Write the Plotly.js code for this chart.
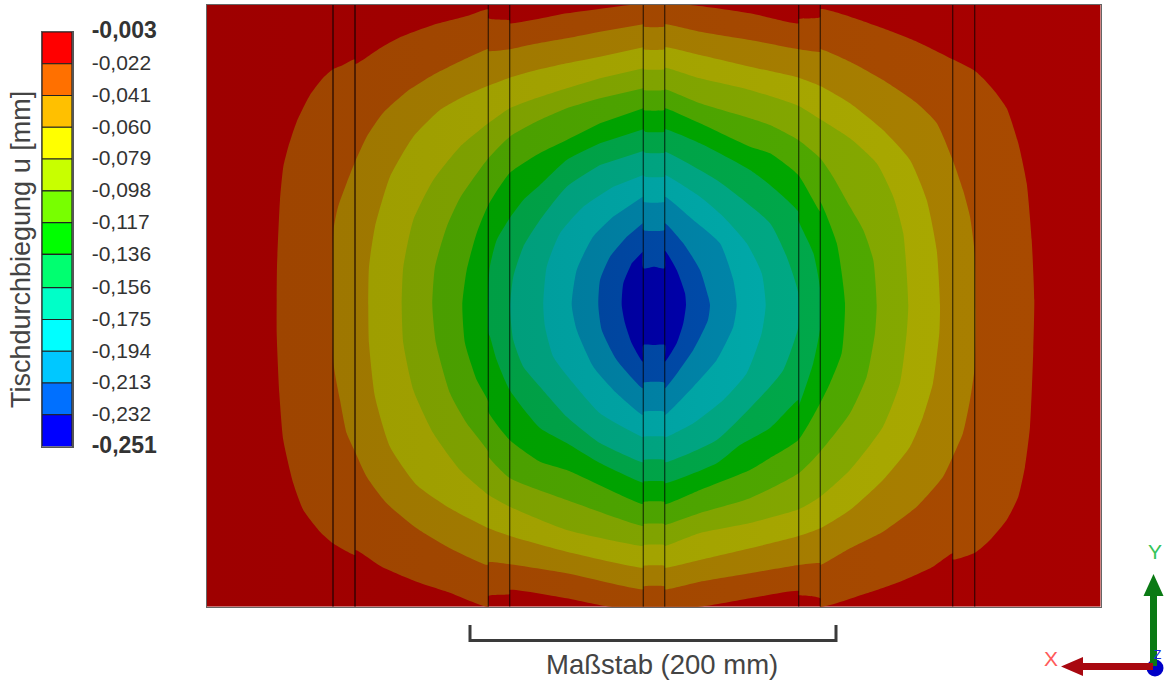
<!DOCTYPE html>
<html><head><meta charset="utf-8">
<script src="https://cdn.plot.ly/plotly-3.0.1.min.js"></script>
<style>html,body{margin:0;padding:0;background:#fff;overflow:hidden}</style>
</head><body><div id="chart" style="width:1164px;height:680px"></div>
<script>
// Legend
const legendLevels = [-0.003,-0.022,-0.041,-0.060,-0.079,-0.098,-0.117,-0.136,-0.156,-0.175,-0.194,-0.213,-0.232,-0.251];
const boldTick = t => '<span style="font-size:23px;font-weight:bold">'+t+'</span>';
const legendLabels = [boldTick('-0,003'),'-0,022','-0,041','-0,060','-0,079','-0,098','-0,117','-0,136','-0,156','-0,175','-0,194','-0,213','-0,232',boldTick('-0,251')];
const bandPalette = ['#ff0000','#ff7000','#ffc000','#ffff00','#c8ff00','#78ff00','#00ff00','#00ff70','#00ffc8','#00ffff','#00c8ff','#0070ff','#0000ff'];

// Table plate and its stiffening-rib edges, in picture-scale units
const tableX = [207,1100.7];
const tableY = [5,606.7];
const ribEdges = [333,355,488.3,509.7,643.3,664.7,798.7,820.3,952.7,974.7];

// Iso-deflection outlines, outermost to innermost
const iso01 = [[630,5],[690,5],[750,13.3],[798.7,23.3],[798.7,19.3],[820,17.3],[820.5,9.3],[850,16.7],[883,28.3],[917,41.7],[952.7,59.3],[974.7,70.7],[983,78.3],[995,91.7],[1006.7,108.3],[1018.3,143.3],[1026.7,183.3],[1031.7,240],[1034.3,300],[1033.3,350],[1030,426.7],[1025,466.7],[1018.3,496.7],[1006.7,520],[990,540],[975,552.7],[952.7,559.5],[952.7,553.3],[933,566.7],[900,581.7],[866.7,593.3],[820.3,606.7],[820.3,598.3],[810,596],[798.7,595],[798.7,591],[750,598.3],[700,606.7],[610,606.7],[566.7,598.3],[509.7,590],[509.7,594],[488.3,596],[488.3,606.7],[450,592.7],[416.7,581.7],[381.7,566.7],[355.5,550],[355,555],[333,543.3],[320,531.7],[303.3,510],[293.3,483.3],[283.3,440],[279.3,393],[276.7,333],[276.7,300],[277,266.7],[280,200],[283.3,166.7],[288.3,146.7],[296.7,121.7],[310,95],[323,78],[333,69.3],[343,65],[354.8,59.3],[355.5,64],[380,48.3],[400,37.3],[433,25],[467,16],[488.3,9.3],[488.3,18.3],[509.7,20.5],[510,23.3],[567,13.3],[623,5.7]];
const iso02 = [[643.3,24.3],[643.3,26.5],[664.7,26.5],[664.7,24.3],[700,31.7],[750,40],[798.7,49.3],[820.3,51.7],[820.3,49.3],[850,61.7],[883,80],[916.7,103],[936.7,123],[952.7,160],[963,190],[970,216.7],[974.7,253],[974.7,366.7],[970,400],[963,433],[952.7,456.7],[943,476.7],[916.7,506.7],[883,531.7],[850,548.3],[820.3,565],[820.3,563.3],[798.7,565],[750,573.3],[700,581.7],[664.7,589.3],[664.7,586.5],[643.3,586.5],[643.3,589.3],[566.7,573.3],[510,564.3],[488.7,562.3],[487.5,565],[450,548.3],[416.7,528.3],[386.7,503.3],[366.7,476.7],[355,451.7],[346.7,433.3],[340,400],[333.5,363.3],[333.5,230],[338,207],[346.7,183],[355,162],[366.7,136.7],[383,113],[406.7,91.7],[433,75],[466.7,58.3],[488.3,49],[488.7,51],[509.7,49.3],[533,44.3],[566.7,38.3],[600,31.7]];
const iso03 = [[643.3,47.3],[643.3,49.3],[664.7,49.3],[665,47.3],[700,55],[750,66.7],[798.7,77.7],[820.3,86],[850,103.3],[883,130],[910,160],[926.7,200],[936.7,250],[940,305],[939.3,333],[933,383],[923,416.7],[910,446.7],[883,480],[850,510],[820.3,528.3],[798.7,536],[750,548.3],[700,560],[664.7,567.7],[664.7,566],[643.3,566],[643.3,567.7],[566.7,551.7],[510,536],[488.7,528.3],[450,508.3],[416.7,485],[390,446.7],[375,396.7],[369,343.3],[368.3,305],[369,266.7],[375,226.7],[390,176.7],[413.3,136.7],[440,110],[466.7,95],[488.3,85.7],[509.7,77.7],[533,71],[566.7,63.3],[600,56.7]];
const iso04 = [[643.3,68.3],[643.3,69.3],[664.7,69.3],[665,67.7],[700,78.3],[750,90],[798.7,106],[820.3,119.3],[850,138.3],[876.7,163.3],[893.3,196.7],[903.3,233.3],[908.3,305],[906.7,333],[900,383],[883,426.7],[850,470],[820.3,496.7],[798.7,509.3],[750,523],[700,533],[664.7,546],[664.7,545],[643.3,545],[643.3,546],[566.7,530],[509.7,506.7],[488.7,495],[460,470],[433.3,433.3],[413.3,390],[403.3,343.3],[401.7,305],[403.3,266.7],[413.3,220],[433.3,180],[460,146.7],[488.3,123.3],[509.7,108.3],[533,99.3],[566.7,88.3],[600,78.3]];
const iso05 = [[643.3,88.3],[643.3,90],[664.7,90],[665,89.3],[700,103.3],[750,118.3],[770,125],[798.3,140],[820.3,158.3],[833,176.7],[850,206.7],[863.3,230],[873.3,260],[876.7,305],[875,333],[866.7,376.7],[850,413.3],[820.3,451.7],[798.7,473.3],[750,498.3],[700,513],[664.7,525],[664.7,524],[643.3,524],[643.3,526],[566.7,500],[509.7,478],[488.7,456.7],[488.3,451.7],[466.7,423.3],[450,393.3],[436,343.3],[432.3,305],[435,266.7],[446.7,226.7],[460,198],[488.3,158.3],[509.7,136.7],[533,123.3],[566.7,108.3],[600,98.3]];
const iso06 = [[643.3,108.3],[643.3,110],[664.7,110],[665,108.3],[700,123.3],[750,146.7],[770,153.3],[798.3,175],[820.3,211.7],[820.3,201.7],[836.7,243],[845,303],[841.7,353],[830,383.3],[820.3,403],[798.3,440],[770,458],[750,470],[700,490],[665,504.3],[664.7,502],[643.3,502],[642.7,504],[566.7,470],[540,461.7],[509.7,440],[488.3,411.7],[488.3,401.7],[476.7,380],[465,343.3],[462.3,305],[466.7,270],[476.7,233],[488.3,205],[509.7,173],[540,153],[566.7,140],[600,123.3]];
const iso07 = [[643.3,129.3],[645,131.7],[664.7,131.7],[665,129.3],[700,143.3],[750,170],[770,185],[798.3,211.7],[798.3,220],[813.3,253],[820.3,290],[820.3,327],[813.3,363],[798.3,406.7],[798.3,400],[770,428],[740,445],[716.7,463.3],[665,483.3],[664.7,481.5],[643.3,481.5],[643.3,482.7],[600,463],[566.7,443],[540,428],[509.7,390],[496.7,360],[490,336.7],[488.3,333],[488.3,286.7],[490,266],[496.7,240],[509.7,218.3],[523.3,200],[540,185],[566.7,160],[600,143.3]];
const iso08 = [[643.3,151],[645,152.7],[664.7,152.7],[665,151.7],[716.7,180],[770,223.3],[786.7,256.7],[798.3,293],[798.3,327],[783.3,370],[770,386.7],[716.7,440],[665,462.3],[664.7,460],[643.3,460],[643.3,462.3],[600,443],[566.7,416.7],[540,386.7],[523.3,366.7],[513.3,340],[510,306.7],[513.3,276.7],[523.3,246.7],[540,220],[566.7,186.7],[600,165]];
const iso09 = [[643.3,175],[645,176.7],[664.7,176.7],[665,175],[700,196.7],[723.3,216.7],[746.7,243.3],[761.7,273.3],[765.7,305],[761.7,333],[746.7,373.3],[723.3,400],[693.3,423.3],[665.3,437.3],[664.7,436.7],[643.3,436.7],[643.3,437.3],[600,413.3],[573.3,383.3],[553.3,356.7],[545,326.7],[543.3,305],[546.7,266.7],[560,233.3],[583.3,206.7],[613.3,186.7]];
const iso10 = [[642.7,196.7],[643.3,201.7],[664.7,201.7],[665,196.7],[693.3,220],[720,243.3],[733.3,280],[736.7,305],[733.3,326.7],[716.7,360],[693.3,386.7],[665,415],[664.7,411.7],[643.3,411.7],[642.7,415],[616.7,393.3],[593.3,366.7],[576.7,330],[571.7,305],[576.7,270],[593,236.7],[613,216.7]];
const iso11 = [[642.7,223.3],[643.3,230],[664.7,230],[665,223.3],[683.3,243.3],[700,270],[708.3,296.7],[710,305],[708,320],[693.3,350],[665,388.3],[664.7,382.7],[643.3,382.7],[642.7,388.3],[616.7,360],[601.7,330],[598.3,305],[600,280],[610,256.7],[626.7,236.7]];
const iso12 = [[642.7,251.7],[643.3,268.3],[654,266.7],[664.7,268.3],[665,250.7],[676.7,270],[685,293.3],[686,305],[683.3,323.3],[676.7,343.3],[665,361.7],[665,345],[654,345],[643.3,345],[642.7,361.7],[631.7,343.3],[625,323.3],[621.7,305],[623.3,283.3],[631.7,263.3]];
const isoOutlines = [iso01,iso02,iso03,iso04,iso05,iso06,iso07,iso08,iso09,iso10,iso11,iso12];

// Scale bar and coordinate triad
const scaleBarX = [470,470,836,836];
const scaleBarY = [625,640.5,640.5,625];
const arrowYX = [1150,1150,1143.5,1153.5,1163.5,1157,1157];
const arrowYY = [666,596,596,574,596,596,666];
const arrowXX = [1153,1083,1083,1061,1083,1083,1153];
const arrowXY = [663,663,657,666.5,676,670,670];
const originDotX = [1155];
const originDotY = [668];

function shade(hex, f){
  const n = parseInt(hex.slice(1),16);
  return 'rgb('+Math.round((n>>16&255)*f)+','+Math.round((n>>8&255)*f)+','+Math.round((n&255)*f)+')';
}
function band(xs, ys, hex, smooth){
  return {type:'scatter',mode:'lines',x:xs,y:ys,fill:'toself',
    line:{width:0,color:shade(hex,.64),shape:smooth?'spline':'linear',smoothing:.55},
    fillcolor:shade(hex,.64),
    fillgradient:{type:'horizontal',colorscale:[[0,shade(hex,.62)],[1,shade(hex,.66)]]},
    hoverinfo:'skip',xaxis:'x',yaxis:'y'};
}
const traces = [];
traces.push(band([tableX[0],tableX[1],tableX[1],tableX[0]],[tableY[0],tableY[0],tableY[1],tableY[1]],bandPalette[0],false));
isoOutlines.forEach((o,i)=>traces.push(band(o.map(p=>p[0]),o.map(p=>p[1]),bandPalette[i+1],true)));
ribEdges.forEach((e,i)=>traces.push({type:'scatter',mode:'lines',x:[e,e],y:tableY,
  line:{color:i<2?'rgba(20,0,0,.75)':'rgba(0,0,0,.62)',width:i<2?1.5:1.3},hoverinfo:'skip',xaxis:'x',yaxis:'y'}));

traces.push({type:'bar',x:legendLevels.slice(1).map(()=>0),
  base:legendLevels.slice(1),y:legendLevels.slice(1).map((v,i)=>legendLevels[i]-v),
  width:1,marker:{color:bandPalette,line:{color:'#222',width:1.2}},hoverinfo:'skip',xaxis:'x2',yaxis:'y2'});

const page = {hoverinfo:'skip',xaxis:'x3',yaxis:'y3'};
traces.push(Object.assign({type:'scatter',mode:'lines',x:scaleBarX,y:scaleBarY,line:{color:'#3a3a3a',width:3}},page));
traces.push(Object.assign({type:'scatter',mode:'markers',x:originDotX,y:originDotY,marker:{color:'#0000c8',size:17}},page));
traces.push(Object.assign({type:'scatter',mode:'lines',x:arrowYX,y:arrowYY,fill:'toself',fillcolor:'#0a7a14',line:{width:0,color:'#0a7a14'}},page));
traces.push(Object.assign({type:'scatter',mode:'lines',x:arrowXX,y:arrowXY,fill:'toself',fillcolor:'#a80810',line:{width:0,color:'#a80810'}},page));

const W=1164,H=680;
const layout = {
  width:W,height:H,margin:{l:0,r:0,t:0,b:0,pad:0},paper_bgcolor:'#fff',plot_bgcolor:'rgba(0,0,0,0)',
  showlegend:false,hovermode:false,barmode:'overlay',
  font:{family:'"Liberation Sans",Arial,sans-serif',color:'#333'},
  xaxis:{domain:[tableX[0]/W,tableX[1]/W],range:tableX,showgrid:false,zeroline:false,showticklabels:false,ticks:'',showline:true,mirror:true,linecolor:'#666',linewidth:1,anchor:'y'},
  yaxis:{domain:[1-tableY[1]/H,1-tableY[0]/H],range:[tableY[1],tableY[0]],showgrid:false,zeroline:false,showticklabels:false,ticks:'',showline:true,mirror:true,linecolor:'#666',linewidth:1,anchor:'x'},
  xaxis2:{domain:[42/W,72/W],range:[-.5,.5],showgrid:false,zeroline:false,showticklabels:false,ticks:'',showline:true,mirror:true,linecolor:'#555',linewidth:1.5,anchor:'y2'},
  yaxis2:{domain:[1-446.5/H,1-32/H],range:[legendLevels[13],legendLevels[0]],side:'right',anchor:'x2',showgrid:false,zeroline:false,
    tickmode:'array',tickvals:legendLevels,ticktext:legendLabels,ticks:'',ticklabelstandoff:14,ticklabelshift:-1,tickfont:{size:21,color:'#333'},showline:true,mirror:true,linecolor:'#555',linewidth:1.5},
  xaxis3:{domain:[0,1],range:[0,W],visible:false,anchor:'y3',fixedrange:true},
  yaxis3:{domain:[0,1],range:[H,0],visible:false,anchor:'x3',fixedrange:true},
  annotations:[
    {text:'Tischdurchbiegung u [mm]',xref:'x3',yref:'y3',x:21,y:250,textangle:-90,showarrow:false,xanchor:'center',yanchor:'middle',font:{size:27,color:'#444'}},
    {text:'Maßstab (200 mm)',xref:'x3',yref:'y3',x:662,y:664,showarrow:false,xanchor:'center',yanchor:'middle',font:{size:27.5,color:'#444'}},
    {text:'X',xref:'x3',yref:'y3',x:1051,y:658,showarrow:false,xanchor:'center',yanchor:'middle',font:{size:21,color:'#ff5a5a'}},
    {text:'Y',xref:'x3',yref:'y3',x:1155,y:551,showarrow:false,xanchor:'center',yanchor:'middle',font:{size:21,color:'#35c45a'}},
    {text:'Z',xref:'x3',yref:'y3',x:1157,y:655,showarrow:false,xanchor:'center',yanchor:'middle',font:{size:12,color:'#2020e0'}}
  ]
};
Plotly.newPlot('chart',traces,layout,{displayModeBar:false,staticPlot:true});
</script></body></html>
